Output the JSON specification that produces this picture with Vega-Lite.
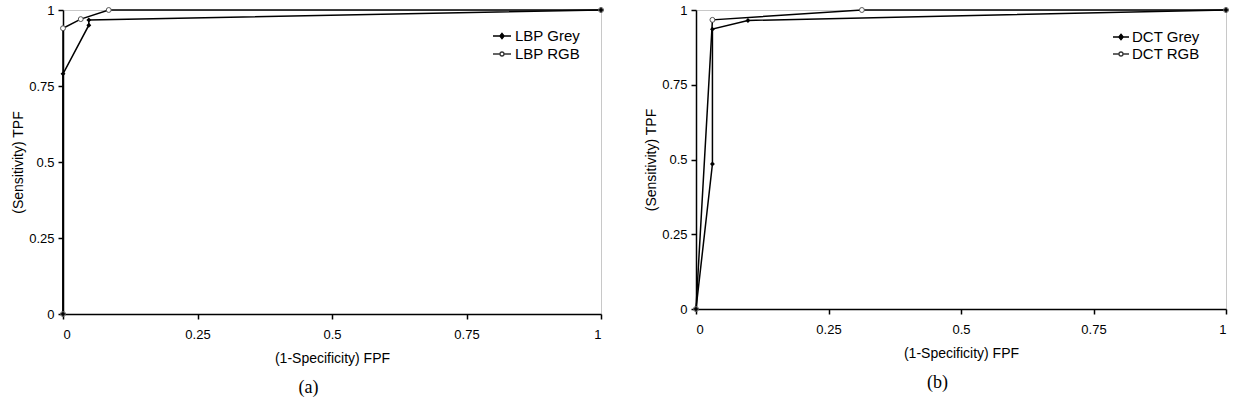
{
  "$schema": "https://vega.github.io/schema/vega-lite/v6.json",
  "background": "white",
  "padding": {"left": 11, "top": 3, "right": 8, "bottom": 0},
  "spacing": 38,
  "config": {
    "font": "Liberation Sans",
    "view": {"stroke": "#c8c8c8", "strokeWidth": 1},
    "axis": {
      "grid": false,
      "domainColor": "black",
      "domainWidth": 1.5,
      "tickColor": "black",
      "tickWidth": 1.5,
      "tickSize": 5,
      "labelFontSize": 13,
      "titleFontSize": 14,
      "titleFontWeight": "normal",
      "labelColor": "black",
      "titleColor": "black",
      "labelFont": "Liberation Sans",
      "titleFont": "Liberation Sans"
    },
    "legend": {"labelFontSize": 15, "labelFont": "Liberation Sans", "labelColor": "black", "padding": 0},
    "title": {"font": "Liberation Serif", "fontSize": 18, "fontWeight": "normal", "color": "black"}
  },
  "datasets": {
    "lbp": [
      {"series": "LBP Grey", "ord": 1, "fpf": 0, "tpf": 0},
      {"series": "LBP Grey", "ord": 2, "fpf": 0, "tpf": 0.79},
      {"series": "LBP Grey", "ord": 3, "fpf": 0.048, "tpf": 0.95},
      {"series": "LBP Grey", "ord": 4, "fpf": 0.048, "tpf": 0.967},
      {"series": "LBP Grey", "ord": 5, "fpf": 1, "tpf": 1},
      {"series": "LBP RGB", "ord": 1, "fpf": 0, "tpf": 0},
      {"series": "LBP RGB", "ord": 2, "fpf": 0, "tpf": 0.94},
      {"series": "LBP RGB", "ord": 3, "fpf": 0.033, "tpf": 0.97},
      {"series": "LBP RGB", "ord": 4, "fpf": 0.085, "tpf": 1},
      {"series": "LBP RGB", "ord": 5, "fpf": 1, "tpf": 1}
    ],
    "dct": [
      {"series": "DCT Grey", "ord": 1, "fpf": 0, "tpf": 0},
      {"series": "DCT Grey", "ord": 2, "fpf": 0.031, "tpf": 0.485},
      {"series": "DCT Grey", "ord": 3, "fpf": 0.031, "tpf": 0.936},
      {"series": "DCT Grey", "ord": 4, "fpf": 0.098, "tpf": 0.965},
      {"series": "DCT Grey", "ord": 5, "fpf": 1, "tpf": 1},
      {"series": "DCT RGB", "ord": 1, "fpf": 0, "tpf": 0},
      {"series": "DCT RGB", "ord": 2, "fpf": 0.031, "tpf": 0.967},
      {"series": "DCT RGB", "ord": 3, "fpf": 0.313, "tpf": 1},
      {"series": "DCT RGB", "ord": 4, "fpf": 1, "tpf": 1}
    ]
  },
  "hconcat": [
    {
      "width": 538,
      "height": 304,
      "data": {"name": "lbp"},
      "title": {"text": "(a)", "orient": "bottom", "anchor": "middle", "frame": "bounds", "offset": 14},
      "encoding": {
        "x": {"field": "fpf", "type": "quantitative", "scale": {"domain": [0, 1], "nice": false},
              "axis": {"values": [0, 0.25, 0.5, 0.75, 1], "labelExpr": "'' + datum.value", "title": "(1-Specificity) FPF", "labelPadding": 9, "titlePadding": 10}},
        "y": {"field": "tpf", "type": "quantitative", "scale": {"domain": [0, 1], "nice": false},
              "axis": {"values": [0, 0.25, 0.5, 0.75, 1], "labelExpr": "'' + datum.value", "title": "(Sensitivity) TPF", "labelPadding": 4, "titlePadding": 3}}
      },
      "layer": [
        {
          "mark": {"type": "line", "color": "black", "strokeWidth": 1.5, "clip": false},
          "encoding": {"detail": {"field": "series"}, "order": {"field": "ord"}}
        },
        {
          "transform": [{"filter": "datum.series === 'LBP RGB'"}],
          "mark": {"type": "point", "shape": "circle", "size": 24, "strokeWidth": 1, "fill": "white", "stroke": "#555555", "opacity": 1, "clip": false}
        },
        {
          "transform": [{"filter": "datum.series === 'LBP Grey'"}],
          "mark": {"type": "point", "shape": "diamond", "size": 24, "strokeWidth": 1, "filled": true, "color": "black", "opacity": 1, "clip": false}
        },
        {
          "mark": {"type": "point", "opacity": 0, "strokeWidth": 1.3},
          "encoding": {
            "shape": {"field": "series", "type": "nominal", "scale": {"domain": ["LBP Grey", "LBP RGB"], "range": ["M-1,0H1M0,-0.3L0.24,0L0,0.3L-0.24,0Z", "M-1,0H-0.22A0.22,0.22 0 1,1 0.22,0A0.22,0.22 0 1,1 -0.22,0M0.22,0H1"]},
              "legend": {"title": null, "orient": "none", "legendX": 429, "legendY": 16, "rowPadding": 0, "labelOffset": 3, "symbolSize": 324, "symbolOpacity": 1, "symbolStrokeWidth": 1.3}},
            "fill": {"field": "series", "type": "nominal", "scale": {"domain": ["LBP Grey", "LBP RGB"], "range": ["black", "white"]}},
            "stroke": {"field": "series", "type": "nominal", "scale": {"domain": ["LBP Grey", "LBP RGB"], "range": ["black", "#333333"]}}
          }
        }
      ]
    },
    {
      "width": 530,
      "height": 299,
      "data": {"name": "dct"},
      "title": {"text": "(b)", "orient": "bottom", "anchor": "middle", "frame": "bounds", "offset": 14},
      "encoding": {
        "x": {"field": "fpf", "type": "quantitative", "scale": {"domain": [0, 1], "nice": false},
              "axis": {"values": [0, 0.25, 0.5, 0.75, 1], "labelExpr": "'' + datum.value", "title": "(1-Specificity) FPF", "labelPadding": 9, "titlePadding": 10}},
        "y": {"field": "tpf", "type": "quantitative", "scale": {"domain": [0, 1], "nice": false},
              "axis": {"values": [0, 0.25, 0.5, 0.75, 1], "labelExpr": "'' + datum.value", "title": "(Sensitivity) TPF", "labelPadding": 4, "titlePadding": 3}}
      },
      "layer": [
        {
          "mark": {"type": "line", "color": "black", "strokeWidth": 1.5, "clip": false},
          "encoding": {"detail": {"field": "series"}, "order": {"field": "ord"}}
        },
        {
          "transform": [{"filter": "datum.series === 'DCT RGB'"}],
          "mark": {"type": "point", "shape": "circle", "size": 24, "strokeWidth": 1, "fill": "white", "stroke": "#555555", "opacity": 1, "clip": false}
        },
        {
          "transform": [{"filter": "datum.series === 'DCT Grey'"}],
          "mark": {"type": "point", "shape": "diamond", "size": 24, "strokeWidth": 1, "filled": true, "color": "black", "opacity": 1, "clip": false}
        },
        {
          "mark": {"type": "point", "opacity": 0, "strokeWidth": 1.3},
          "encoding": {
            "shape": {"field": "series", "type": "nominal", "scale": {"domain": ["DCT Grey", "DCT RGB"], "range": ["M-1,0H1M0,-0.35L0.28,0L0,0.35L-0.28,0Z", "M-1,0H-0.25A0.25,0.25 0 1,1 0.25,0A0.25,0.25 0 1,1 -0.25,0M0.25,0H1"]},
              "legend": {"title": null, "orient": "none", "legendX": 416, "legendY": 18, "rowPadding": 0, "labelOffset": 2, "symbolSize": 256, "symbolOpacity": 1, "symbolStrokeWidth": 1.3}},
            "fill": {"field": "series", "type": "nominal", "scale": {"domain": ["DCT Grey", "DCT RGB"], "range": ["black", "white"]}},
            "stroke": {"field": "series", "type": "nominal", "scale": {"domain": ["DCT Grey", "DCT RGB"], "range": ["black", "#333333"]}}
          }
        }
      ]
    }
  ],
  "resolve": {"scale": {"shape": "independent", "fill": "independent", "stroke": "independent"}, "legend": {"shape": "independent", "fill": "independent", "stroke": "independent"}}
}
